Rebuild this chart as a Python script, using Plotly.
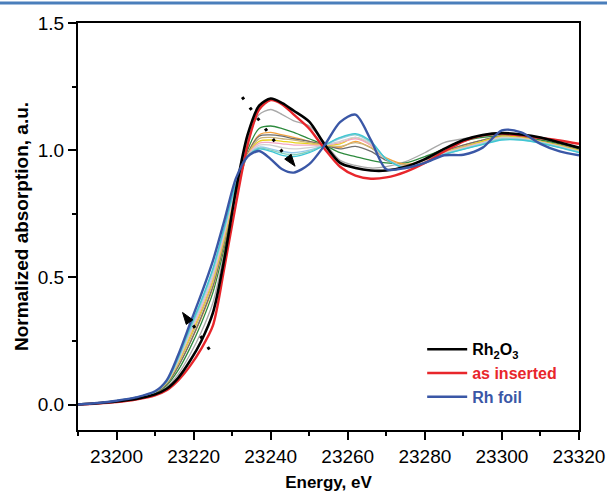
import plotly.graph_objects as go

energy = [23190, 23195, 23200, 23205, 23210, 23213, 23216, 23219, 23222, 23225, 23228,
          23231, 23234, 23237, 23240, 23243, 23246, 23250, 23254, 23258, 23262, 23266,
          23270, 23275, 23280, 23285, 23290, 23295, 23300, 23305, 23310, 23315, 23320]

rh2o3 = [0.000, 0.005, 0.012, 0.022, 0.040, 0.062, 0.105, 0.170, 0.250, 0.360, 0.575,
         0.845, 1.060, 1.175, 1.203, 1.185, 1.155, 1.112, 1.022, 0.950, 0.930, 0.920,
         0.920, 0.935, 0.965, 1.005, 1.040, 1.060, 1.067, 1.062, 1.050, 1.030, 1.010]

as_inserted = [0.000, 0.004, 0.010, 0.020, 0.036, 0.056, 0.095, 0.150, 0.220, 0.310, 0.540,
               0.790, 1.020, 1.160, 1.197, 1.180, 1.140, 1.085, 1.005, 0.935, 0.900, 0.888,
               0.893, 0.915, 0.950, 0.995, 1.035, 1.058, 1.065, 1.058, 1.048, 1.038, 1.025]

rh_foil = [0.000, 0.006, 0.015, 0.028, 0.052, 0.095, 0.195, 0.315, 0.435, 0.565, 0.725,
           0.890, 0.975, 0.997, 0.965, 0.925, 0.912, 0.945, 1.020, 1.110, 1.140, 1.040,
           0.925, 0.930, 0.950, 0.980, 0.982, 1.010, 1.078, 1.070, 1.025, 0.995, 0.980]

# intermediate spectra (in situ series)
series_gray = [0.000, 0.005, 0.013, 0.024, 0.043, 0.068, 0.120, 0.195, 0.285, 0.400, 0.600,
               0.845, 1.040, 1.140, 1.160, 1.140, 1.115, 1.095, 1.030, 0.960, 0.940, 0.930,
               0.935, 0.955, 0.990, 1.030, 1.045, 1.055, 1.060, 1.055, 1.045, 1.030, 1.010]
series_green = [0.000, 0.005, 0.014, 0.025, 0.046, 0.075, 0.135, 0.220, 0.320, 0.440, 0.620,
                0.830, 1.000, 1.085, 1.095, 1.085, 1.070, 1.045, 1.020, 0.990, 0.975, 0.960,
                0.950, 0.950, 0.975, 1.005, 1.035, 1.050, 1.055, 1.050, 1.040, 1.025, 1.005]
series_orange = [0.000, 0.005, 0.014, 0.026, 0.048, 0.080, 0.150, 0.240, 0.340, 0.460, 0.635,
                 0.830, 0.985, 1.060, 1.070, 1.060, 1.050, 1.035, 1.020, 1.010, 1.035, 1.010,
                 0.970, 0.945, 0.960, 0.995, 1.020, 1.040, 1.055, 1.050, 1.035, 1.020, 1.000]
series_darkgray = [0.000, 0.005, 0.014, 0.026, 0.048, 0.080, 0.150, 0.240, 0.345, 0.465, 0.640,
                   0.835, 0.985, 1.055, 1.060, 1.055, 1.045, 1.035, 1.020, 1.005, 1.015, 0.995,
                   0.960, 0.940, 0.960, 0.995, 1.020, 1.040, 1.055, 1.050, 1.035, 1.020, 1.000]
series_khaki = [0.000, 0.005, 0.015, 0.027, 0.050, 0.085, 0.160, 0.255, 0.360, 0.480, 0.650,
                0.840, 0.980, 1.045, 1.050, 1.045, 1.040, 1.030, 1.020, 1.015, 1.030, 1.010,
                0.965, 0.940, 0.958, 0.992, 1.015, 1.035, 1.052, 1.048, 1.033, 1.018, 0.998]
series_yellow = [0.000, 0.005, 0.015, 0.027, 0.050, 0.085, 0.165, 0.265, 0.370, 0.490, 0.660,
                 0.845, 0.980, 1.035, 1.040, 1.035, 1.030, 1.025, 1.020, 1.025, 1.050, 1.020,
                 0.965, 0.935, 0.955, 0.990, 1.012, 1.035, 1.055, 1.050, 1.035, 1.018, 0.998]
series_pink = [0.000, 0.005, 0.015, 0.027, 0.050, 0.088, 0.170, 0.275, 0.380, 0.500, 0.670,
               0.850, 0.978, 1.028, 1.030, 1.025, 1.020, 1.020, 1.020, 1.030, 1.045, 1.020,
               0.965, 0.935, 0.955, 0.988, 1.010, 1.030, 1.050, 1.046, 1.032, 1.015, 0.995]
series_lightgray = [0.000, 0.005, 0.015, 0.027, 0.050, 0.088, 0.172, 0.280, 0.390, 0.510, 0.680,
                    0.855, 0.976, 1.020, 1.020, 1.010, 1.005, 1.010, 1.020, 1.035, 1.050, 1.025,
                    0.965, 0.935, 0.955, 0.988, 1.008, 1.028, 1.050, 1.046, 1.032, 1.015, 0.995]
series_lightblue = [0.000, 0.006, 0.015, 0.028, 0.051, 0.090, 0.180, 0.290, 0.400, 0.525, 0.690,
                    0.865, 0.976, 1.012, 1.005, 0.995, 0.990, 1.000, 1.020, 1.045, 1.060, 1.030,
                    0.965, 0.930, 0.950, 0.985, 1.005, 1.025, 1.045, 1.042, 1.030, 1.012, 0.993]
series_cyan = [0.000, 0.006, 0.015, 0.028, 0.051, 0.090, 0.185, 0.300, 0.410, 0.535, 0.700,
               0.870, 0.975, 1.005, 0.995, 0.980, 0.975, 0.990, 1.020, 1.050, 1.065, 1.035,
               0.965, 0.930, 0.950, 0.983, 1.003, 1.022, 1.040, 1.040, 1.028, 1.010, 0.990]
series_teal = [0.000, 0.006, 0.015, 0.028, 0.051, 0.090, 0.180, 0.295, 0.405, 0.530, 0.695,
               0.868, 0.975, 1.008, 1.000, 0.988, 0.982, 0.995, 1.020, 1.048, 1.062, 1.032,
               0.965, 0.930, 0.950, 0.984, 1.004, 1.024, 1.043, 1.041, 1.029, 1.011, 0.992]

intermediates = [
    (series_gray, "#a9a9a9"),
    (series_green, "#2e8b3e"),
    (series_orange, "#f5a33c"),
    (series_darkgray, "#6e6e6e"),
    (series_khaki, "#c9b27a"),
    (series_yellow, "#e8d21e"),
    (series_pink, "#f2a6c4"),
    (series_lightgray, "#cfcfcf"),
    (series_lightblue, "#94c8ea"),
    (series_teal, "#86d2bc"),
    (series_cyan, "#3fc6d6"),
]

x_ticks = [23200, 23220, 23240, 23260, 23280, 23300, 23320]
y_ticks = [0.0, 0.5, 1.0, 1.5]

FONT = "Liberation Sans, Arial, Helvetica, sans-serif"

fig = go.Figure()

for vals, col in intermediates:
    fig.add_trace(go.Scatter(x=energy, y=vals, mode="lines", showlegend=False,
                             line=dict(color=col, width=1.3, shape="spline", smoothing=0.8)))

fig.add_trace(go.Scatter(x=energy, y=as_inserted, mode="lines",
                         name='<span style="color:#e8262b">as inserted</span>', legendrank=2,
                         line=dict(color="#e8262b", width=2.4, shape="spline", smoothing=0.8)))
fig.add_trace(go.Scatter(x=energy, y=rh2o3, mode="lines",
                         name="Rh<sub>2</sub>O<sub>3</sub>", legendrank=1,
                         line=dict(color="#000000", width=2.6, shape="spline", smoothing=0.8)))
fig.add_trace(go.Scatter(x=energy, y=rh_foil, mode="lines",
                         name='<span style="color:#3a57a6">Rh foil</span>', legendrank=3,
                         line=dict(color="#3a57a6", width=2.4, shape="spline", smoothing=0.8)))

# dotted trend arrows (decoration)
fig.add_shape(type="line", xref="x", yref="y", x0=23232.6, y0=1.209, x1=23243.4, y1=0.985,
              line=dict(color="black", width=3, dash="3px,10px"))
fig.add_shape(type="path", xref="x", yref="y",
              path="M23246.33,0.937 L23245.30,0.984 L23243.64,0.965 Z",
              fillcolor="black", line=dict(color="black", width=1))
fig.add_shape(type="line", xref="x", yref="y", x0=23224.1, y0=0.2165, x1=23219.3, y1=0.325,
              line=dict(color="black", width=3, dash="3px,10px"))
fig.add_shape(type="path", xref="x", yref="y",
              path="M23217.13,0.362 L23219.79,0.333 L23218.09,0.315 Z",
              fillcolor="black", line=dict(color="black", width=1))

# header rule of the page
fig.add_shape(type="line", xref="paper", yref="paper", x0=-0.2, x1=1.1, y0=1.049, y1=1.049,
              line=dict(color="#4a7ebb", width=3))

axis_common = dict(showline=True, linecolor="black", linewidth=2, mirror=True,
                   ticks="outside", ticklen=8, tickwidth=2, tickcolor="black",
                   showgrid=False, zeroline=False, automargin=False,
                   tickfont=dict(family=FONT, size=19, color="black"))

fig.update_xaxes(range=[23190, 23320], tickvals=x_ticks,
                 ticktext=[str(v) for v in x_ticks],
                 minor=dict(ticks="outside", ticklen=4, tickwidth=2, dtick=10,
                            tick0=23190, tickcolor="black", showgrid=False),
                 title=dict(text="<b>Energy, eV</b>", standoff=10,
                            font=dict(family=FONT, size=17, color="black")),
                 **axis_common)
fig.update_yaxes(range=[-0.1, 1.5], tickvals=y_ticks,
                 ticktext=["0.0", "0.5", "1.0", "1.5"],
                 minor=dict(ticks="outside", ticklen=4, tickwidth=2, dtick=0.25,
                            tick0=0, tickcolor="black", showgrid=False),
                 title=dict(text="<b>Normalized absorption, a.u.</b>", standoff=4,
                            font=dict(family=FONT, size=19, color="black")),
                 **axis_common)

fig.update_layout(
    width=607, height=493,
    margin=dict(l=78, r=28, t=23, b=63),
    plot_bgcolor="white", paper_bgcolor="white",
    font=dict(family=FONT, color="black"),
    legend=dict(x=0.687, y=0.24, xanchor="left", yanchor="top",
                bgcolor="rgba(0,0,0,0)", borderwidth=0,
                font=dict(family=FONT, size=16, color="black", weight="bold"),
                tracegroupgap=0, itemwidth=40),
)

fig.write_html("out.html", config={"displayModeBar": False},
               post_script="document.body.style.margin='0';document.body.style.overflow='hidden';")
